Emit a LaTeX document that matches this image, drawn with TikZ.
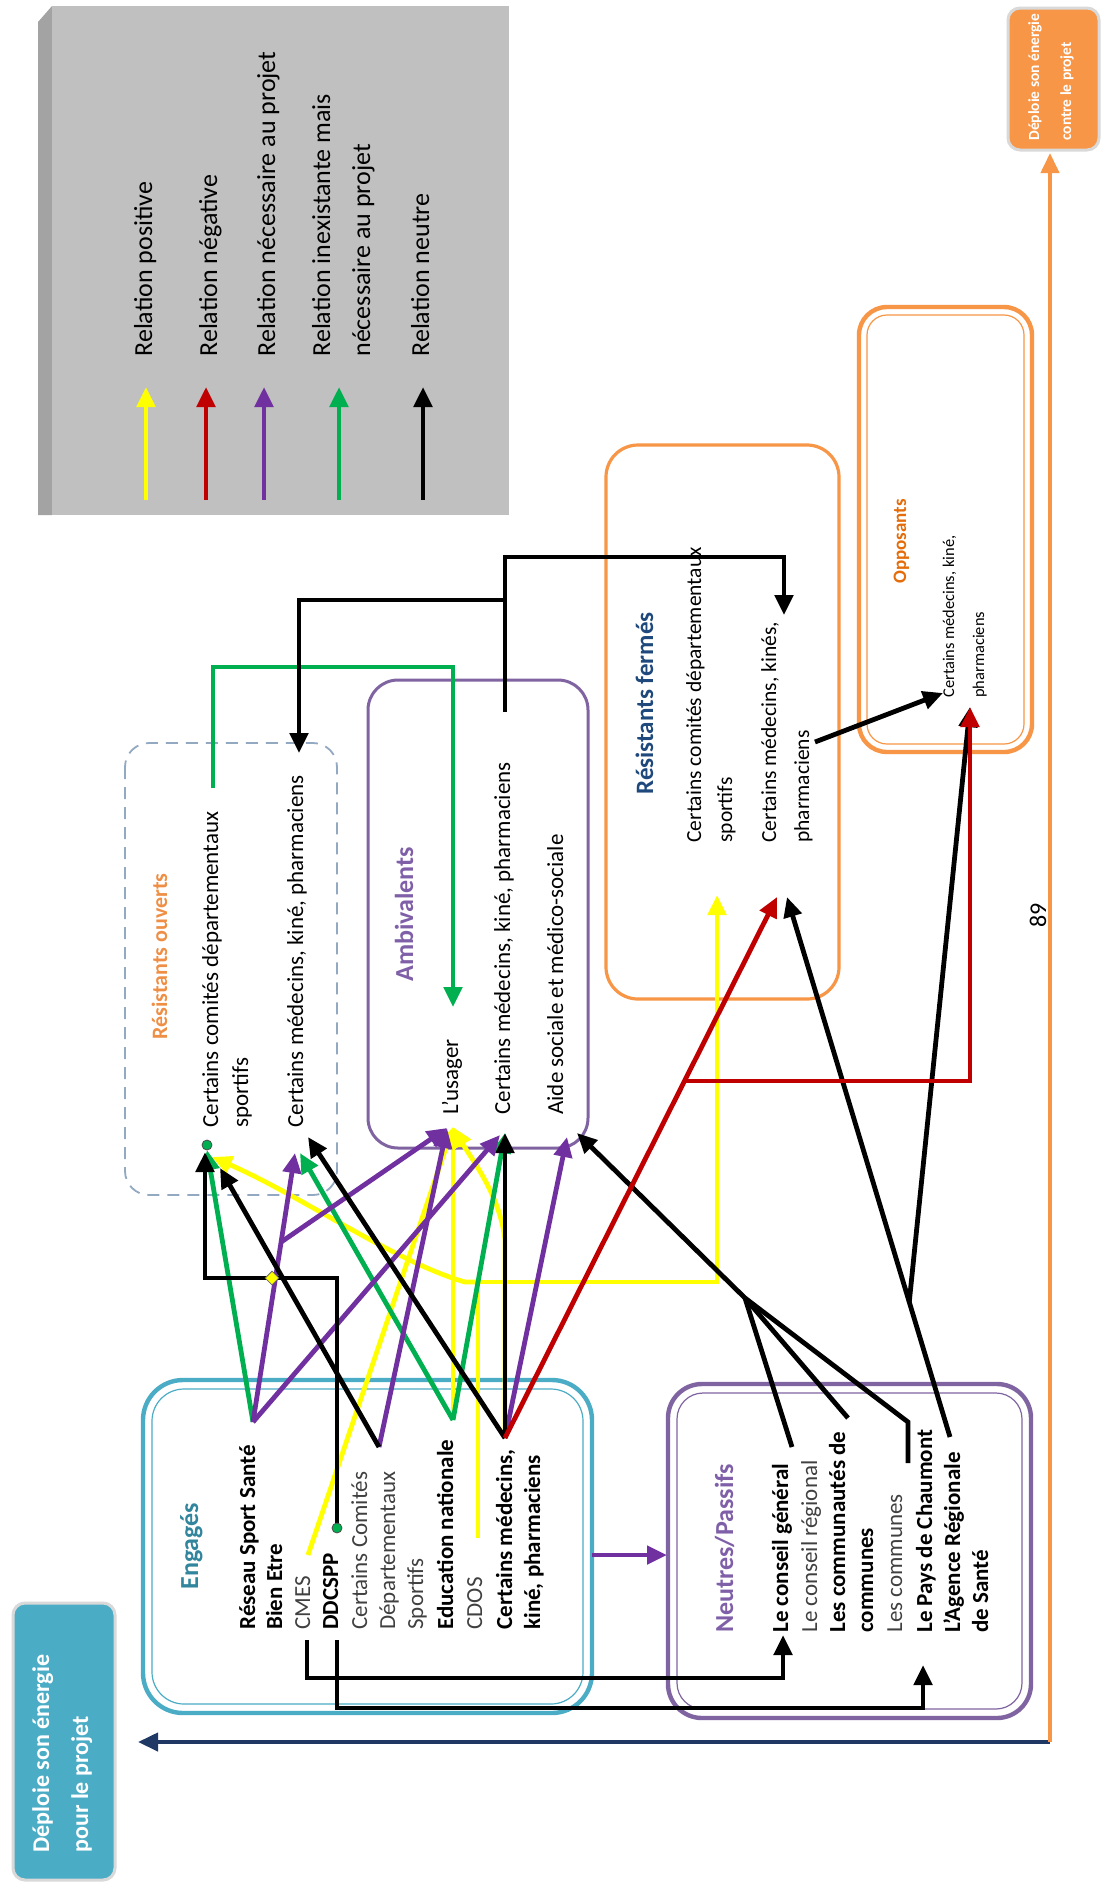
\documentclass[tikz,border=0pt]{standalone}
\usepackage{fontspec}
\setmainfont{Carlito}
\usetikzlibrary{arrows.meta,calc,shapes.geometric}
\definecolor{cyel}{HTML}{FFFF00}
\definecolor{cred}{HTML}{C00000}
\definecolor{cpur}{HTML}{7030A0}
\definecolor{cgrn}{HTML}{00B050}
\definecolor{cteal}{HTML}{4BACC6}
\definecolor{cengt}{HTML}{31859C}
\definecolor{cviol}{HTML}{8064A2}
\definecolor{cviolt}{HTML}{7F60A8}
\definecolor{corg}{HTML}{F79646}
\definecolor{corgt}{HTML}{E46C0A}
\definecolor{corgl}{HTML}{EE8F45}
\definecolor{cnavy}{HTML}{1F3864}
\definecolor{cdash}{HTML}{93A9C2}
\definecolor{clegend}{HTML}{C0C0C0}
\definecolor{cbevel}{HTML}{A3A3A3}
\definecolor{crfb}{HTML}{1F497D}
\definecolor{cgtxt}{HTML}{404040}
\begin{document}
\begin{tikzpicture}[x=0.5pt,y=-0.5pt,
  ln/.style={line width=2.4pt},
  arw/.style={-{Triangle[length=10pt,width=9pt]}},
  ye/.style={ln,draw=cyel},
  gr/.style={ln,draw=cgrn},
  pu/.style={ln,draw=cpur},
  bk/.style={ln,draw=black},
  re/.style={ln,draw=cred},
  txt/.style={rotate=90,anchor=base west,inner sep=0pt},
  fA/.style={txt,font=\fontsize{11.5pt}{14pt}\selectfont},
  fAg/.style={txt,text=cgtxt,font=\fontsize{11.5pt}{14pt}\selectfont},
  fAb/.style={txt,font=\fontsize{11.5pt}{14pt}\selectfont\bfseries},
  fRF/.style={txt,font=\fontsize{10.75pt}{13pt}\selectfont},
  fOp/.style={txt,font=\fontsize{8.2pt}{10pt}\selectfont},
  fLg/.style={txt,font=\fontsize{13pt}{15pt}\selectfont},
  ttl/.style={txt,font=\fontsize{13pt}{15pt}\selectfont\bfseries},
  wbox/.style={txt,text=white,font=\fontsize{12pt}{15pt}\selectfont\bfseries},
  dot/.style={circle,fill=cgrn,draw=black!70,line width=0.4pt,inner sep=0pt,minimum size=5pt},
  handle/.style={diamond,fill=cyel,draw=black!60,line width=0.4pt,inner sep=0pt,minimum size=7pt}
]
\useasboundingbox (0,0) rectangle (1104,1887);
\fill[white] (0,0) rectangle (1104,1887);

% ---------- legend ----------
\fill[cbevel] (38,22) -- (52,6) -- (52,515) -- (38,515) -- cycle;
\fill[clegend] (52,6) rectangle (509,515);
\foreach \xx/\cc [count=\i] in {146/cyel,206/cred,264/cpur,339/cgrn,423/black}{
  \coordinate (lgA\i) at (\xx,500);
  \coordinate (lgB\i) at (\xx,387);
  \draw[ln,draw=\cc,arw] (lgA\i) -- (lgB\i);
}
\node[fLg] (l1) at (152,357) {Relation positive};
\node[fLg] (l2) at (217,357) {Relation négative};
\node[fLg] (l3) at (275,357) {Relation nécessaire au projet};
\node[fLg] (l4) at (330,357) {Relation inexistante mais};
\node[fLg] (l5) at (370,357) {nécessaire au projet};
\node[fLg] (l6) at (429,357) {Relation neutre};

% ---------- side boxes ----------
\draw[draw=black!15,line width=1.5pt,fill=cteal,rounded corners=6pt] (13,1603) rectangle (115,1880);
\node[wbox] (pour1) at (49,1853) {Déploie son énergie};
\node[wbox] (pour2) at (88,1853) {pour le projet};
\draw[draw=black!15,line width=1.5pt,fill=corg,rounded corners=6pt] (1008,8) rectangle (1099,150);
\node[txt,text=white,font=\fontsize{7.7pt}{9pt}\selectfont\bfseries] (contre1) at (1039,141) {Déploie son énergie};
\node[txt,text=white,font=\fontsize{7.7pt}{9pt}\selectfont\bfseries] (contre2) at (1071,141) {contre le projet};

\coordinate (corner) at (1050,1742);
\coordinate (pourA) at (138,1742);
\coordinate (contreA) at (1050,153);
\draw[line width=2pt,draw=cnavy,arw] (corner) -- (pourA);
\draw[line width=2pt,draw=corg,arw] (corner) -- (contreA);

% ---------- group boxes ----------
\draw[draw=cteal,line width=2.2pt,rounded corners=20pt] (143,1380) rectangle (592,1713);
\draw[draw=cteal,line width=0.6pt,rounded corners=16pt] (152,1389) rectangle (583,1704);
\draw[draw=cviol,line width=2.2pt,rounded corners=17pt] (668,1384) rectangle (1031,1718);
\draw[draw=cviol,line width=0.6pt,rounded corners=13pt] (677,1393) rectangle (1022,1709);
\draw[draw=corg,line width=2.2pt,rounded corners=14pt] (859,307) rectangle (1032,752);
\draw[draw=corg,line width=0.6pt,rounded corners=10pt] (867,315) rectangle (1024,744);
\draw[draw=cviol,line width=1.5pt,rounded corners=15pt] (368,680) rectangle (588,1148);
\draw[draw=cdash,line width=0.9pt,dash pattern=on 6pt off 4pt,rounded corners=12pt] (125,743) rectangle (337,1195);
\draw[draw=corg,line width=1.6pt,rounded corners=16pt] (606,445) rectangle (839,999);

% ---------- texts ----------
\node[ttl,text=cengt] (engT) at (198,1590) {Engagés};
\node[fAb] (e1) at (255,1630) {Réseau Sport Santé};
\node[fAb] (e2) at (282,1630) {Bien Etre};
\node[fAg] (e3) at (310,1630) {CMES};
\node[fAb] (e4) at (338,1630) {DDCSPP};
\node[fAg] (e5) at (367,1630) {Certains Comités};
\node[fAg] (e6) at (395,1630) {Départementaux};
\node[fAg] (e7) at (423,1630) {Sportifs};
\node[fAb] (e8) at (453,1630) {Education nationale};
\node[fAg] (e9) at (482,1630) {CDOS};
\node[fAb] (e10) at (512,1630) {Certains médecins,};
\node[fAb] (e11) at (540,1630) {kiné, pharmaciens};

\node[ttl,text=cviolt] (neuT) at (733,1633) {Neutres/Passifs};
\node[fAb] (n1) at (788,1633) {Le conseil général};
\node[fAg] (n2) at (817,1633) {Le conseil régional};
\node[fAb] (n3) at (845,1633) {Les communautés de};
\node[fAb] (n4) at (873,1633) {communes};
\node[fAg] (n5) at (902,1633) {Les communes};
\node[fAb] (n6) at (932,1633) {Le Pays de Chaumont};
\node[fAb] (n7) at (960,1633) {L’Agence Régionale};
\node[fAb] (n8) at (988,1633) {de Santé};

\node[ttl,text=cviolt] (ambT) at (413,982) {Ambivalents};
\node[fA] (a1) at (458,1115) {L’usager};
\node[fA] (a2) at (510,1115) {Certains médecins, kiné, pharmaciens};
\node[fA] (a3) at (563,1115) {Aide sociale et médico-sociale};

\node[txt,text=corgl,font=\fontsize{11pt}{13pt}\selectfont\bfseries] (roT) at (167,1040) {Résistants ouverts};
\node[fA] (r1) at (218,1128) {Certains comités départementaux};
\node[fA] (r2) at (248,1128) {sportifs};
\node[fA] (r3) at (303,1128) {Certains médecins, kiné, pharmaciens};

\node[txt,text=crfb,font=\fontsize{12.5pt}{15pt}\selectfont\bfseries] (rfT) at (653,795) {Résistants fermés};
\node[fRF] (f1) at (701,843) {Certains comités départementaux};
\node[fRF] (f2) at (732,843) {sportifs};
\node[fRF] (f3) at (776,843) {Certains médecins, kinés,};
\node[fRF] (f4) at (809,843) {pharmaciens};

\node[txt,text=corgt,font=\fontsize{9.5pt}{11pt}\selectfont\bfseries] (opT) at (906,584) {Opposants};
\node[fOp] (o1) at (954,698) {Certains médecins, kiné,};
\node[fOp] (o2) at (984,698) {pharmaciens};

\node[rotate=90,font=\fontsize{12pt}{14pt}\selectfont] (pg) at (1038,915) {89};

% ---------- anchor points ----------
\coordinate (eRes) at (253,1422);
\coordinate (eCom) at (379,1447);
\coordinate (eEdu) at (453,1420);
\coordinate (eMed) at (505,1438);
\coordinate (eCmes) at (308,1555);
\coordinate (eDdc) at (337,1528);
\coordinate (eCdos) at (478,1538);
\coordinate (eCmesB) at (307,1640);
\coordinate (eDdcB) at (337,1640);
\coordinate (engR) at (592,1555);
\coordinate (neuL) at (667,1555);

\coordinate (roComG) at (207,1150);
\coordinate (roComK) at (205,1152);
\coordinate (roComB) at (220,1168);
\coordinate (roComY) at (212,1157);
\coordinate (roMedP) at (295,1153);
\coordinate (roMedG) at (300,1153);
\coordinate (roMedK) at (308,1137);
\coordinate (roComE) at (213,788);
\coordinate (roMedE) at (299,753);

\coordinate (aUsP) at (447,1128);
\coordinate (aUsY) at (453,1127);
\coordinate (aUsE) at (453,1007);
\coordinate (aMed) at (505,1133);
\coordinate (aMedP) at (500,1135);
\coordinate (aMedE) at (505,712);
\coordinate (aAideP) at (567,1137);
\coordinate (aAideK) at (577,1133);

\coordinate (rfCom) at (717,895);
\coordinate (rfMedR) at (777,897);
\coordinate (rfMedK) at (787,897);
\coordinate (rfMedE) at (784,615);
\coordinate (rfMedO) at (815,742);

\coordinate (opA) at (943,693);
\coordinate (opB) at (970,707);

\coordinate (nCg) at (783,1635);
\coordinate (nCgE) at (792,1447);
\coordinate (nCc) at (848,1418);
\coordinate (nCom) at (908,1463);
\coordinate (nPays) at (923,1665);
\coordinate (nAg) at (950,1437);
\coordinate (nJ) at (745,1298);

\coordinate (yJ) at (478,1282);
\coordinate (yM) at (505,1240);
\coordinate (tJ) at (505,600);
\coordinate (pBr) at ($(eRes)!0.669!(roMedP)$);
\coordinate (rBr) at ($(eMed)!0.66!(rfMedR)$);
\coordinate (agBr) at ($(nAg)!0.25!(rfMedK)$);

% ---------- yellow ----------
\draw[ye,arw] (eCmes) -- (aUsY);
\draw[ye,arw] (eEdu) -- (aUsY);
\draw[ye,arw] (eCdos) -- (yJ) -| (rfCom);
\draw[ye,arw] (yJ) -- (465,1282) .. controls (395,1262) and (300,1195) .. (roComY);
\draw[ye,arw] (eMed) -- (yM) .. controls (500,1195) and (472,1160) .. (aUsY);

% ---------- green ----------
\draw[gr,arw] (eRes) -- (roComG);
\draw[gr,arw] (eEdu) -- (roMedG);
\draw[gr,arw] (eEdu) -- (aMed);
\draw[gr,arw] (roComE) -- (213,667) -| (aUsE);

% ---------- purple ----------
\draw[pu,arw] (eRes) -- (roMedP);
\draw[pu,arw] (eRes) -- (aMedP);
\draw[pu,arw] (pBr) -- (aUsP);
\draw[pu,arw] (eCom) -- (aUsP);
\draw[pu,arw] (eMed) -- (aAideP);
\draw[pu,arw] (engR) -- (neuL);

% ---------- black ----------
\draw[bk,arw] (eCom) -- (roComB);
\draw[bk,arw] (eMed) -- (roMedK);
\draw[bk,arw] (eMed) -- (aMed);
\draw[bk,arw] (eDdc) -- (337,1278) -| (roComK);
\draw[bk,arw] (aMedE) -- (505,557) -| (rfMedE);
\draw[bk,arw] (tJ) -| (roMedE);
\draw[bk,arw] (eCmesB) -- (307,1678) -| (nCg);
\draw[bk,arw] (eDdcB) -- (337,1708) -| (nPays);
\draw[bk] (nCgE) -- (nJ);
\draw[bk] (nCc) -- (nJ);
\draw[bk] (nCom) -- (908,1422) -- (nJ);
\draw[bk,arw] (nJ) -- (aAideK);
\draw[bk,arw] (nAg) -- (rfMedK);
\draw[bk,arw] (agBr) -- (opB);
\draw[bk,arw] (rfMedO) -- (opA);

% ---------- red ----------
\draw[re,arw] (eMed) -- (rfMedR);
\draw[re,arw] (rBr) -| (opB);

% ---------- handles ----------
\node[dot] (d1) at (207,1145) {};
\node[dot] (d2) at (eDdc) {};
\node[handle] (h1) at (272,1278) {};
\end{tikzpicture}
\end{document}
